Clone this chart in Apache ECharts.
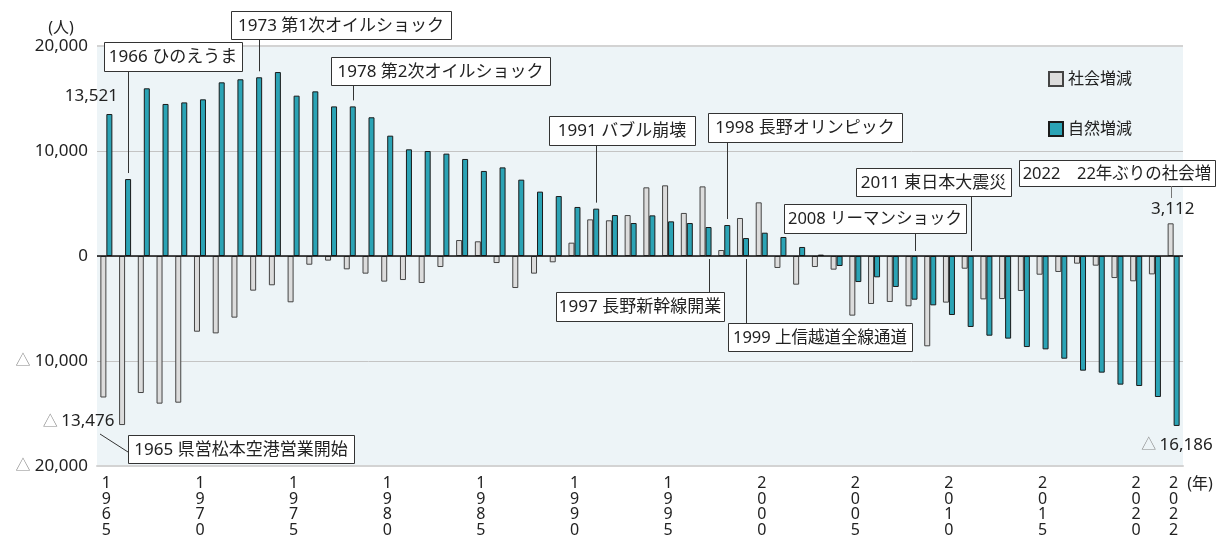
<!DOCTYPE html>
<html>
<head>
<meta charset="utf-8">
<script src="https://cdn.jsdelivr.net/npm/echarts@6/dist/echarts.min.js"></script>
<style>
  html, body { margin: 0; padding: 0; background: #fff; }
  #chart { width: 1216px; height: 540px; }
</style>
</head>
<body>
<div id="chart"></div>
<script>
// 年（カテゴリ）
const years = [];
for (let y = 1965; y <= 2022; y++) years.push(String(y));

// 社会増減
const socialChange = [
  -13476, -16100, -13050, -14060, -13970, -7210, -7370, -5870, -3300, -2790,
  -4410, -830, -440, -1270, -1680, -2440, -2290, -2570, -1050, 1520,
  1400, -670, -3050, -1680, -600, 1270, 3490, 3400, 3900, 6540,
  6730, 4100, 6630, 570, 3620, 5110, -1140, -2730, -1050, -1300,
  -5680, -4570, -4380, -4790, -8600, -4440, -1210, -4130, -4100, -3330,
  -1780, -1520, -730, -920, -2100, -2410, -1750, 3112
];

// 自然増減
const naturalChange = [
  13521, 7330, 15970, 14480, 14630, 14920, 16540, 16830, 17020, 17520,
  15270, 15680, 14250, 14250, 13210, 11460, 10160, 10000, 9750, 9240,
  8100, 8440, 7270, 6130, 5710, 4670, 4510, 3900, 3140, 3870,
  3300, 3140, 2760, 2950, 1710, 2220, 1810, 860, 130, -950,
  -2480, -2030, -2950, -4160, -4700, -5620, -6760, -7590, -7870, -8670,
  -8890, -9780, -10920, -11110, -12250, -12380, -13430, -16186
];

// x軸に表示する年
const xLabelYears = ['1965', '1970', '1975', '1980', '1985', '1990', '1995', '2000', '2005', '2010', '2015', '2020', '2022'];

// 出来事
const events = [
  ['1965', '1965 県営松本空港営業開始'],
  ['1966', '1966 ひのえうま'],
  ['1973', '1973 第1次オイルショック'],
  ['1978', '1978 第2次オイルショック'],
  ['1991', '1991 バブル崩壊'],
  ['1997', '1997 長野新幹線開業'],
  ['1998', '1998 長野オリンピック'],
  ['1999', '1999 上信越道全線通道'],
  ['2008', '2008 リーマンショック'],
  ['2011', '2011 東日本大震災'],
  ['2022', '2022\u300022年ぶりの社会増']
];

// 吹き出しの位置 [left, top, width, height]（レイアウト）
const eventBoxes = {
  '1965': [128, 435, 226, 28],
  '1966': [104, 42, 138, 29],
  '1973': [231, 11, 220, 28],
  '1978': [331, 57, 219, 28],
  '1991': [549, 116, 146, 29],
  '1997': [556, 292, 168, 29],
  '1998': [708, 113, 194, 29],
  '1999': [728, 323, 184, 28],
  '2008': [784, 204, 182, 29],
  '2011': [856, 168, 155, 28],
  '2022': [1019, 160, 196, 26]
};

const FONT = '"Noto Sans", "Noto Sans CJK JP", sans-serif';
const GRAY = '#dcdcdc';
const TEAL = '#2ba3b5';
const fmt = v => Math.abs(v).toLocaleString('en-US');

const chart = echarts.init(document.getElementById('chart'));

chart.setOption({
  animation: false,
  textStyle: { fontFamily: FONT },
  grid: {
    left: 97, right: 33, top: 46, bottom: 74,
    show: true, backgroundColor: '#edf4f7', borderWidth: 0
  },
  legend: {
    orient: 'vertical',
    left: 1043, top: 66,
    itemWidth: 14, itemHeight: 14, itemGap: 34,
    icon: 'rect',
    data: ['社会増減', '自然増減'],
    textStyle: { fontSize: 16, color: '#222', fontFamily: FONT }
  },
  xAxis: {
    type: 'category',
    data: years,
    axisLine: { onZero: false, lineStyle: { color: '#d3d3d3', width: 2 } },
    axisTick: { show: false },
    axisLabel: {
      interval: 0,
      margin: 10,
      fontSize: 16,
      lineHeight: 15.5,
      color: '#222',
      formatter: v => xLabelYears.includes(v) ? v.split('').join('\n') : ''
    }
  },
  yAxis: {
    type: 'value',
    min: -20000, max: 20000, interval: 10000,
    axisLine: { show: false },
    axisTick: { show: false },
    splitLine: { lineStyle: { color: '#c4c4c4', width: 1 } },
    axisLabel: {
      margin: 9,
      fontSize: 17,
      color: '#222',
      formatter: v => v < 0 ? '{t|△} ' + fmt(v) : fmt(v),
      rich: { t: { color: '#8a8a8a', fontSize: 15 } }
    }
  },
  series: [
    {
      name: '社会増減',
      type: 'bar',
      data: socialChange,
      barWidth: 6,
      barGap: '0%',
      itemStyle: { color: GRAY, borderColor: '#444', borderWidth: 1 }
    },
    {
      name: '自然増減',
      type: 'bar',
      data: naturalChange,
      barWidth: 6,
      barGap: '0%',
      itemStyle: { color: TEAL, borderColor: '#1a1a1a', borderWidth: 1 },
      markLine: {
        silent: true,
        symbol: ['none', 'none'],
        label: { show: false },
        data: [
          { yAxis: 0, lineStyle: { color: '#111', width: 1.5, type: 'solid' } },
          { yAxis: 20000, lineStyle: { color: '#d3d3d3', width: 2, type: 'solid' } }
        ]
      }
    }
  ]
});

// 注記を描く
const ctx = document.createElement('canvas').getContext('2d');
const px = (year, val) => chart.convertToPixel({ gridIndex: 0 }, [years.indexOf(year), val]);
const zeroY = px('1965', 0)[1];
const graphics = [];

const addText = (x, y, text, align, size) => {
  graphics.push({
    type: 'text', x: x, y: y, z: 100,
    style: { text: text, font: size + 'px ' + FONT, fill: '#222', align: align, verticalAlign: 'middle' }
  });
};
const addTri = (xRight, y, num, size) => {
  // "△ 16,186" のような負の値ラベル
  graphics.push({
    type: 'text', x: xRight, y: y, z: 100,
    style: {
      text: '{t|△} {n|' + num + '}',
      align: 'right', verticalAlign: 'middle',
      rich: {
        t: { fill: '#8a8a8a', font: '15px ' + FONT },
        n: { fill: '#222', font: size + 'px ' + FONT }
      }
    }
  });
};
const addLine = (x1, y1, x2, y2, color) => {
  graphics.push({
    type: 'line', z: 99,
    shape: { x1: x1, y1: y1, x2: x2, y2: y2 },
    style: { stroke: color || '#333', lineWidth: 1 }
  });
};

events.forEach(([year, text]) => {
  const [l, t, w, h] = eventBoxes[year];
  let size = 17;
  ctx.font = size + 'px ' + FONT;
  while (ctx.measureText(text).width > w - 5 && size > 12) {
    size -= 0.5;
    ctx.font = size + 'px ' + FONT;
  }
  graphics.push({
    type: 'rect', z: 99,
    shape: { x: l + 0.5, y: t + 0.5, width: w, height: h },
    style: { fill: '#fff', stroke: '#333', lineWidth: 1 }
  });
  addText(l + w / 2, t + h / 2 + 1, text, 'center', size);

  const i = years.indexOf(year);
  const cx = px(year, 0)[0];
  const tealX = Math.round(cx + 3) + 0.5;
  if (year === '1965') {
    return;
  }
  if (year === '2022') {
    const gx = Math.round(cx - 3) + 0.5;
    addLine(gx, t + h, gx, t + h + 12, '#777');
    return;
  }
  const v = naturalChange[i];
  if (t + h < zeroY) {
    // 上の吹き出し
    const end = v > 0 ? px(year, v)[1] - 6 : zeroY - 5;
    addLine(tealX, t + h, tealX, end);
  } else {
    addLine(tealX, t, tealX, zeroY + 3);
  }
});

// 1965年の値ラベル
const p65n = px('1965', naturalChange[0]);
addText(p65n[0] - 15, p65n[1] - 18, fmt(naturalChange[0]), 'center', 17);
const p65s = px('1965', socialChange[0]);
addTri(p65s[0] + 8, p65s[1] + 24, fmt(socialChange[0]), 17);
addLine(100, 434, 128, 452);

// 2022年の値ラベル
const p22s = px('2022', socialChange[57]);
addText(p22s[0] - 1, p22s[1] - 14, fmt(socialChange[57]), 'center', 17);
const p22n = px('2022', naturalChange[57]);
addTri(p22n[0] + 39, p22n[1] + 19, fmt(naturalChange[57]), 17);

// 単位
addText(61, 28, '(人)', 'center', 16);
addText(1200, 484, '(年)', 'center', 16);

chart.setOption({ graphic: graphics });
</script>
</body>
</html>
